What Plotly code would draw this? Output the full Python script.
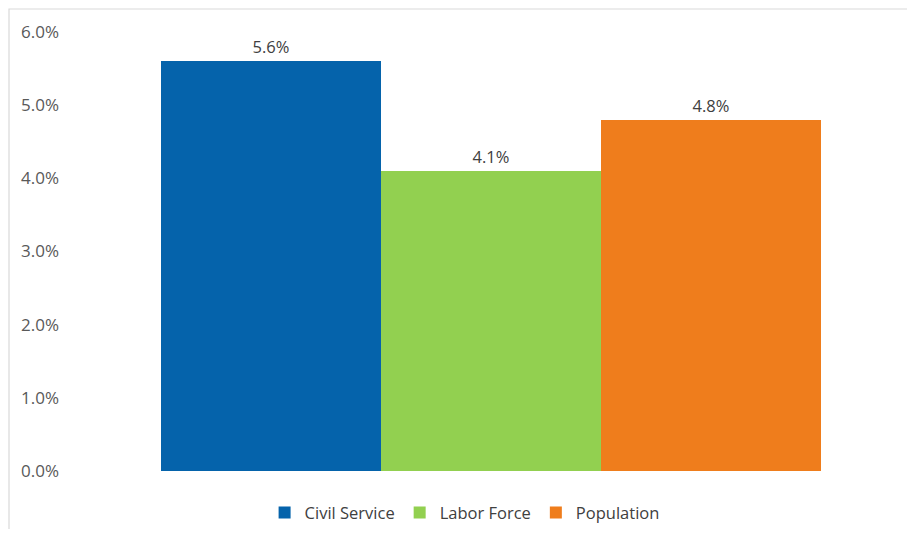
import plotly.graph_objects as go

series = ["Civil Service", "Labor Force", "Population"]
values = [5.6, 4.1, 4.8]
colors = ["#0563AB", "#92D050", "#EF7D1C"]
category = ["All"]
tick_vals = [0, 1, 2, 3, 4, 5, 6]
tick_text = ["0.0%", "1.0%", "2.0%", "3.0%", "4.0%", "5.0%", "6.0%"]

fig = go.Figure()
for name, v, c in zip(series, values, colors):
    fig.add_trace(go.Bar(
        x=category, y=[v], name=name, marker=dict(color=c, line=dict(width=0)),
        text=[f"{v:.1f}%"], textposition="outside",
        textfont=dict(size=16.5, color="#404040", family="Open Sans"),
        cliponaxis=False,
    ))

fig.update_layout(
    width=899, height=521,
    margin=dict(l=153, r=86, t=24, b=58),
    barmode="group", bargap=0, bargroupgap=0,
    plot_bgcolor="white", paper_bgcolor="white",
    font=dict(family="Open Sans", color="#595959", size=16),
    showlegend=True,
    legend=dict(orientation="h", x=0.46, xanchor="center",
                yref="container", y=0.031, yanchor="middle",
                font=dict(size=16.5, color="#404040"), itemwidth=30, traceorder="normal"),
    xaxis=dict(showticklabels=False, showgrid=False, zeroline=False, showline=False),
    yaxis=dict(range=[0, 6], tickvals=tick_vals, ticktext=tick_text, showgrid=False,
               zeroline=False, showline=False, ticklabelstandoff=101,
               tickfont=dict(size=17, color="#595959")),
    shapes=[dict(type="rect", xref="paper", yref="paper", x0=-0.2303, x1=1.2,
                 y0=-0.2, y1=1.0524, line=dict(color="#D9D9D9", width=1.2),
                 fillcolor="rgba(0,0,0,0)", layer="below")],
)

fig.write_html("out.html")
